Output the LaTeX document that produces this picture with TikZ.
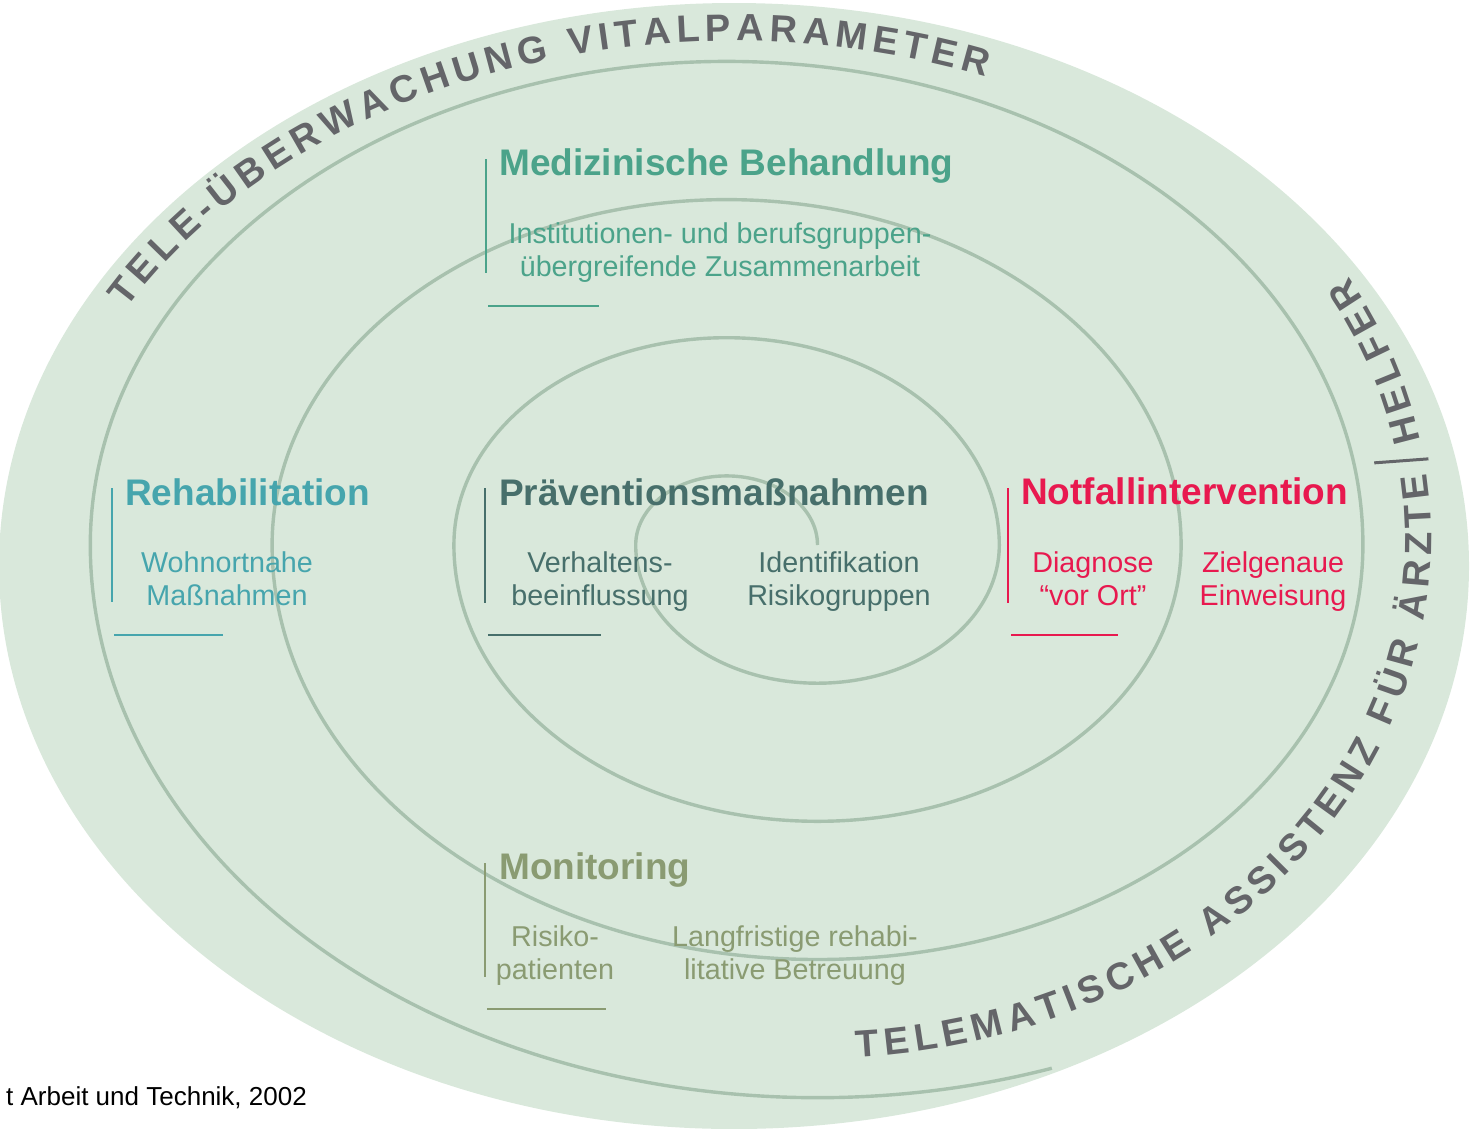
\documentclass[tikz,border=0pt]{standalone}
\usepackage{fontspec}
\setmainfont{Liberation Sans}
\definecolor{bgc}{HTML}{D9E8DB}
\definecolor{spir}{HTML}{A8C1AE}
\definecolor{arcTxt}{HTML}{646569}
\definecolor{cMed}{HTML}{4BA38A}
\definecolor{cReh}{HTML}{46A5AD}
\definecolor{cPrv}{HTML}{476F6B}
\definecolor{cNot}{HTML}{E8194F}
\definecolor{cMon}{HTML}{8A9B72}
\newcommand\arcfont{\fontsize{38}{44}\selectfont\bfseries}
% #1 cx, #2 cy, #3 a, #4 b, #5 direction (+1 ccw, -1 cw), #6 letter/width list, #7 name prefix
% start parameter angle in \curth, tracking in \trk
\newcommand\placeletters[7]{%
  \foreach \ch/\w [count=\k] in {#6}{%
    \pgfmathsetmacro\gw{\w*0.038}%
    \pgfmathsetmacro\lsp{100*sqrt((#3/100*sin(\curth))^2+(#4/100*cos(\curth))^2)}%
    \pgfmathsetmacro\thc{\curth+(#5)*(\gw/2)/\lsp*180/pi}%
    \pgfmathsetmacro\lro{atan2((#5)*#4*cos(\thc),-(#5)*#3*sin(\thc))}%
    \node[arctext,rotate=\lro] (#7\k) at ({#1+#3*cos(\thc)},{#2+#4*sin(\thc)}) {\ch};
    \pgfmathsetmacro\lsp{100*sqrt((#3/100*sin(\thc))^2+(#4/100*cos(\thc))^2)}%
    \pgfmathsetmacro\nth{\thc+(#5)*(\gw/2+\trk)/\lsp*180/pi}%
    \xdef\curth{\nth}%
  }%
}
\begin{document}
\begin{tikzpicture}[x=1pt,y=1pt,
  head/.style={font=\fontsize{37}{44}\selectfont\bfseries, anchor=base west, inner sep=0pt},
  sub/.style={font=\fontsize{28.7}{33}\selectfont, anchor=base, inner sep=0pt},
  rule/.style={line width=2pt},
  arctext/.style={font=\arcfont, text=arcTxt, inner sep=0pt, anchor=base},
  spiral/.style={draw=spir, line width=3.4pt}]
\useasboundingbox (0,0) rectangle (1471,-1128);
\clip (0,0) rectangle (1471,-1128);
% background ellipse
\fill[bgc] (734,-566) ellipse [x radius=735, y radius=563];
% spiral
\draw[spiral] (817.5,-545)
  arc[start angle=0,end angle=180,x radius=90.9,y radius=69.1]
  arc[start angle=180,end angle=360,x radius=181.8,y radius=138.2]
  arc[start angle=0,end angle=180,x radius=272.7,y radius=207.3]
  arc[start angle=180,end angle=360,x radius=363.6,y radius=276.3]
  arc[start angle=0,end angle=180,x radius=454.5,y radius=345.4]
  arc[start angle=180,end angle=360,x radius=545.4,y radius=414.5]
  arc[start angle=0,end angle=180,x radius=636.3,y radius=483.6]
  arc[start angle=180,end angle=288.8,x radius=727.2,y radius=552.7];
% top arc text
\gdef\curth{150.7}\gdef\trk{5.35}
\placeletters{734}{-566}{697}{525}{-1}{T/611,E/667,L/611,E/667,-/333,Ü/722,B/722,E/667,R/722,W/944,A/722,C/722,H/722,U/722,N/722,G/778,{}/278,V/667,I/278,T/611,A/722,L/611,P/667,A/722,R/722,A/722,M/833,E/667,T/611,E/667,R/722}{tp}
% bottom arc text
\gdef\curth{-86.4}\gdef\trk{5.64}
\placeletters{818}{-538}{613.5}{520.5}{1}{T/611,E/667,L/611,E/667,M/833,A/722,T/611,I/278,S/667,C/722,H/722,E/667,{}/278,A/722,S/667,S/667,I/278,S/667,T/611,E/667,N/722,Z/611,{}/278,F/611,Ü/722,R/722,{}/278,Ä/722,R/722,Z/611,T/611,E/667}{bt}
% slash
\pgfmathsetmacro\lsp{100*sqrt((6.135*sin(\curth))^2+(5.205*cos(\curth))^2)}
\pgfmathsetmacro\thc{\curth+11/\lsp*180/pi}
\pgfmathsetmacro\lro{atan2(520.5*cos(\thc),-613.5*sin(\thc))}
\coordinate (slashpt) at ({818+613.5*cos(\thc)},{-538+520.5*sin(\thc)});
\draw[arcTxt, line width=3pt, shift={(slashpt)}, rotate=\lro] (-3,-4) -- (3,50);
\pgfmathsetmacro\nth{\thc+(11+\trk)/\lsp*180/pi}
\xdef\curth{\nth}
\placeletters{818}{-538}{613.5}{520.5}{1}{H/722,E/667,L/611,F/611,E/667,R/722}{bh}
% Medizinische Behandlung
\draw[rule, cMed] (486,-159) -- (486,-273);
\draw[rule, cMed] (488,-306) -- (599,-306);
\node[head, text=cMed] (med) at (499,-175) {Medizinische Behandlung};
\node[sub, text=cMed] (med1) at (720,-243) {Institutionen- und berufsgruppen-};
\node[sub, text=cMed] (med2) at (720,-276) {übergreifende Zusammenarbeit};
% Rehabilitation
\draw[rule, cReh] (111.5,-488) -- (111.5,-602);
\draw[rule, cReh] (114,-635) -- (223,-635);
\node[head, text=cReh] (reh) at (125,-505) {Rehabilitation};
\node[sub, text=cReh] (reh1) at (227,-572) {Wohnortnahe};
\node[sub, text=cReh] (reh2) at (227,-605) {Maßnahmen};
% Praeventionsmassnahmen
\draw[rule, cPrv] (485,-488) -- (485,-603);
\draw[rule, cPrv] (488,-634.5) -- (601,-634.5);
\node[head, text=cPrv] (prv) at (499,-505) {Präventionsmaßnahmen};
\node[sub, text=cPrv] (prv1) at (600,-572) {Verhaltens-};
\node[sub, text=cPrv] (prv2) at (600,-605) {beeinflussung};
\node[sub, text=cPrv] (prv3) at (839,-572) {Identifikation};
\node[sub, text=cPrv] (prv4) at (839,-605) {Risikogruppen};
% Notfallintervention
\draw[rule, cNot] (1008,-488) -- (1008,-603);
\draw[rule, cNot] (1011,-635) -- (1118,-635);
\node[head, text=cNot] (not) at (1021,-504) {Notfallintervention};
\node[sub, text=cNot] (not1) at (1093,-572) {Diagnose};
\node[sub, text=cNot] (not2) at (1093,-605) {“vor Ort”};
\node[sub, text=cNot] (not3) at (1273,-572) {Zielgenaue};
\node[sub, text=cNot] (not4) at (1273,-605) {Einweisung};
% Monitoring
\draw[rule, cMon] (485,-863) -- (485,-977);
\draw[rule, cMon] (487,-1009) -- (606,-1009);
\node[head, text=cMon] (mon) at (499,-879) {Monitoring};
\node[sub, text=cMon] (mon1) at (555,-946) {Risiko-};
\node[sub, text=cMon] (mon2) at (555,-979) {patienten};
\node[sub, text=cMon] (mon3) at (795,-946) {Langfristige rehabi-};
\node[sub, text=cMon] (mon4) at (795,-979) {litative Betreuung};
% footer
\node[font=\fontsize{26}{30}\selectfont, anchor=base east, inner sep=0pt] (src) at (307,-1105) {t Arbeit und Technik, 2002};
\end{tikzpicture}
\end{document}
